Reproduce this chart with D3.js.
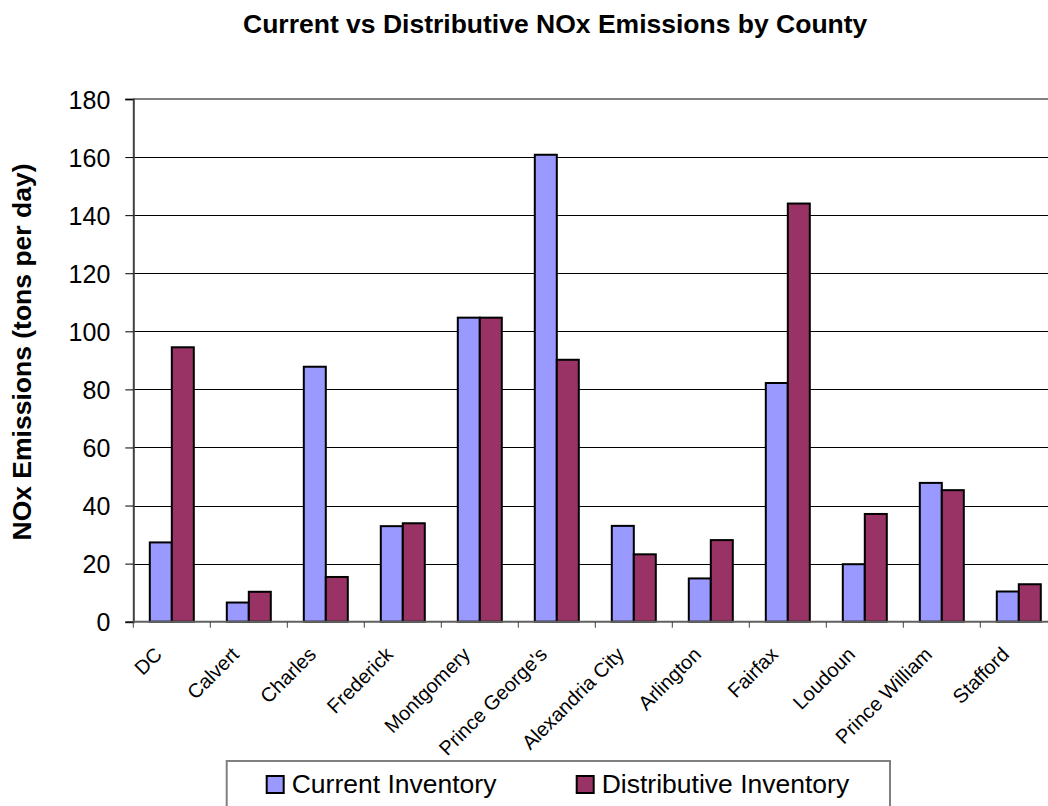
<!DOCTYPE html>
<html>
<head>
<meta charset="utf-8">
<script src="https://cdn.jsdelivr.net/npm/d3@7"></script>
<style>
  html, body { margin: 0; padding: 0; background: #fff; }
  svg { display: block; }
  text { font-family: "Liberation Sans", Arial, sans-serif; fill: #000; }
</style>
</head>
<body>
<svg id="chart" width="1048" height="806"></svg>
<script>
const categories = ["DC", "Calvert", "Charles", "Frederick", "Montgomery", "Prince George's",
  "Alexandria City", "Arlington", "Fairfax", "Loudoun", "Prince William", "Stafford"];
const seriesNames = ["Current Inventory", "Distributive Inventory"];
const currentInventory = [27.3, 6.6, 87.8, 32.9, 104.7, 160.8, 33.0, 14.9, 82.2, 19.8, 47.8, 10.4];
const distributiveInventory = [94.5, 10.3, 15.4, 33.9, 104.7, 90.2, 23.2, 28.1, 144.0, 37.1, 45.3, 12.9];
const yTicks = [0, 20, 40, 60, 80, 100, 120, 140, 160, 180];
const colors = ["#9999FF", "#993366"];
const titleText = "Current vs Distributive NOx Emissions by County";
const yTitleText = "NOx Emissions (tons per day)";

const svg = d3.select("#chart");
const pLeft = 133.3, pRight = 1057.3, pTop = 99, pBottom = 621.7;

const x0 = d3.scaleBand().domain(categories).range([pLeft, pRight]).padding(0);
const x1 = d3.scaleBand().domain(seriesNames).range([0, x0.bandwidth()])
  .paddingInner(0).paddingOuter(0.75);
const y = d3.scaleLinear().domain([0, 180]).range([pBottom, pTop]);

// gridlines
svg.append("g").selectAll("line").data(yTicks.filter(d => d > 0 && d < 180)).join("line")
  .attr("x1", pLeft).attr("x2", pRight)
  .attr("y1", d => Math.round(y(d)) + 0.5).attr("y2", d => Math.round(y(d)) + 0.5)
  .attr("stroke", "#000").attr("stroke-width", 1);

// plot border top
svg.append("line").attr("x1", pLeft).attr("x2", pRight)
  .attr("y1", y(180)).attr("y2", y(180))
  .attr("stroke", "#808080").attr("stroke-width", 2);

// bars
const rows = categories.map((c, i) => ({ c, vals: [currentInventory[i], distributiveInventory[i]] }));
const groups = svg.append("g").selectAll("g").data(rows).join("g")
  .attr("transform", d => `translate(${x0(d.c)},0)`);
groups.selectAll("rect").data(d => d.vals.map((v, j) => ({ v, s: seriesNames[j], j })))
  .join("rect")
  .attr("x", d => x1(d.s))
  .attr("width", x1.bandwidth())
  .attr("y", d => y(d.v))
  .attr("height", d => y(0) - y(d.v))
  .attr("fill", d => colors[d.j])
  .attr("stroke", "#000").attr("stroke-width", 2);

// y axis
const yAxis = d3.axisLeft(y).tickValues(yTicks).tickSize(8).tickPadding(15);
const gy = svg.append("g").attr("transform", `translate(${pLeft},0)`).call(yAxis);
gy.select(".domain").attr("stroke", "#404040").attr("stroke-width", 2);
gy.selectAll(".tick line").attr("stroke", "#000").attr("stroke-width", 1);
gy.selectAll(".tick text").attr("font-size", 25).attr("font-family", "Liberation Sans, Arial, sans-serif")
  .attr("fill", "#000").attr("dy", "0.36em");

// x axis (ticks at category boundaries)
const boundaries = categories.map(c => x0(c)).concat([pRight]);
svg.append("line").attr("x1", pLeft).attr("x2", pRight)
  .attr("y1", pBottom).attr("y2", pBottom).attr("stroke", "#606060").attr("stroke-width", 2);
svg.append("g").selectAll("line").data(boundaries).join("line")
  .attr("x1", d => d).attr("x2", d => d)
  .attr("y1", pBottom).attr("y2", pBottom + 6)
  .attr("stroke", "#404040").attr("stroke-width", 1);

svg.append("g").selectAll("text").data(categories).join("text")
  .attr("transform", d => `translate(${x0(d) + x0.bandwidth() / 2 - 8.5},${pBottom + 34}) rotate(-45)`)
  .attr("text-anchor", "end")
  .attr("font-size", 20)
  .text(d => d);

// title
svg.append("text").attr("x", 243).attr("y", 32.7)
  .attr("font-size", 26.5).attr("font-weight", "bold")
  .text(titleText);

// y axis title
svg.append("text")
  .attr("transform", "translate(31,352) rotate(-90)")
  .attr("text-anchor", "middle")
  .attr("font-size", 26.5).attr("font-weight", "bold")
  .text(yTitleText);

// legend
const lg = svg.append("g");
lg.append("rect").attr("x", 226.7).attr("y", 761).attr("width", 663.3).attr("height", 60)
  .attr("fill", "#fff").attr("stroke", "#808080").attr("stroke-width", 2);
const legendX = [266.7, 576.7];
const li = lg.selectAll("g.item").data(seriesNames).join("g").attr("class", "item")
  .attr("transform", (d, i) => `translate(${legendX[i]},776)`);
li.append("rect").attr("width", 17).attr("height", 17)
  .attr("fill", (d, i) => colors[i]).attr("stroke", "#000").attr("stroke-width", 2);
li.append("text").attr("x", 25).attr("y", 17.3).attr("font-size", 26.5).text(d => d);
</script>
</body>
</html>
